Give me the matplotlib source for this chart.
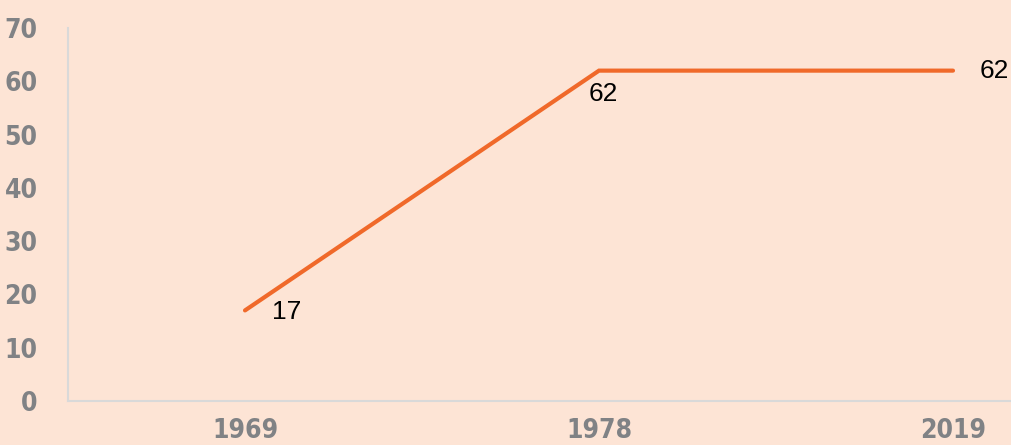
import numpy as np
from matplotlib import pyplot as plt

years = ['1969', '1978', '2019']
values = [17, 62, 62]
y_ticks = [0, 10, 20, 30, 40, 50, 60, 70]

bg = '#FDE4D5'
line_color = '#F0692A'
tick_color = '#808285'

fig = plt.figure(figsize=(10.11, 4.45), dpi=100, facecolor=bg)
# axes run past the right edge of the figure, so the last category sits near it
ax = fig.add_axes([68 / 1011, 44 / 445, 1062 / 1011, 373 / 445])
ax.set_facecolor(bg)

x = np.arange(len(years))
ax.plot(x, values, color=line_color, linewidth=3, solid_capstyle='round',
        solid_joinstyle='miter', clip_on=False)

# value labels
offsets = [(30, -1), (3, -17), (30, 0)]
for xi, v, (dx, dy) in zip(x, values, offsets):
    ax.annotate(str(v), (xi, v), xytext=(dx, dy), textcoords='offset points',
                ha='center', va='center', fontsize=19, color='black',
                family=['Liberation Sans', 'DejaVu Sans'], annotation_clip=False)

ax.set_xlim(-0.5, 2.5)
ax.set_ylim(0, 70)
ax.set_xticks(x)
ax.set_xticklabels(years)
ax.set_yticks(y_ticks)

for lab in ax.get_xticklabels() + ax.get_yticklabels():
    lab.set_family(['DejaVu Sans'])
    lab.set_stretch('condensed')
    lab.set_fontweight('bold')
    lab.set_fontsize(19)
    lab.set_color(tick_color)

ax.tick_params(axis='y', length=0, pad=22)
ax.tick_params(axis='x', length=0, pad=12)

for side in ['top', 'right']:
    ax.spines[side].set_visible(False)
for side in ['left', 'bottom']:
    ax.spines[side].set_color('#D9D9D9')
    ax.spines[side].set_linewidth(1.5)

fig.savefig('out.png', dpi=100, facecolor=bg)
plt.close(fig)
